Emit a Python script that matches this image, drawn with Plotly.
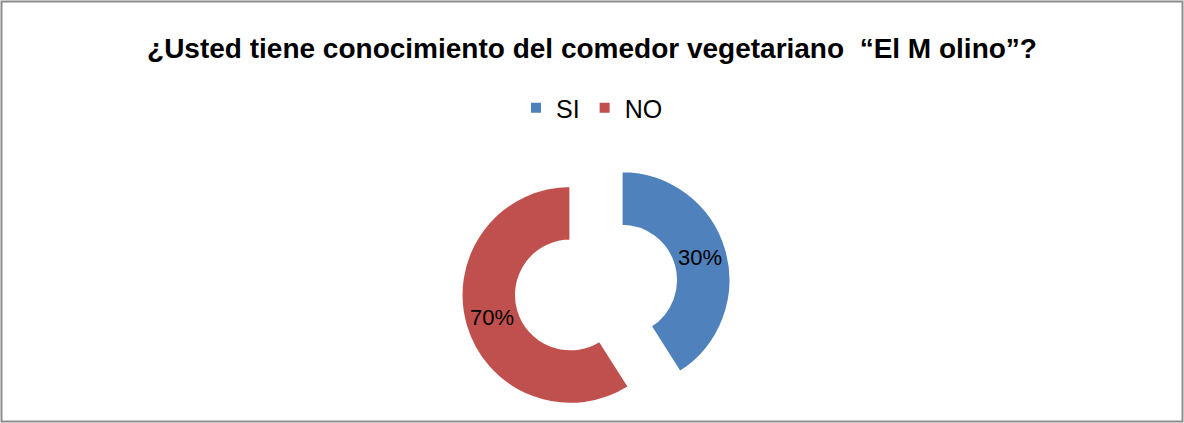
import plotly.graph_objects as go

labels = ["SI", "NO"]
# slice sizes as drawn in the reference (angles ~147° / 213°)
values = [41, 59]
# percentage labels as printed on the reference
value_labels = ["30%", "70%"]
colors = ["#4F81BD", "#C0504D"]
title_text = "¿Usted tiene conocimiento del comedor vegetariano  “El M olino”?"

W, H = 1184, 423
cx, cy, half = 596, 287.5, 135.5

fig = go.Figure()
fig.add_trace(go.Pie(
    labels=labels,
    values=values,
    text=value_labels,
    hole=0.5,
    sort=False,
    direction="clockwise",
    rotation=0,
    pull=[0.245, 0.245],
    marker=dict(colors=colors, line=dict(color="white", width=2)),
    textinfo="text",
    textposition="inside",
    insidetextorientation="horizontal",
    textfont=dict(family="Liberation Sans, Arial, sans-serif", size=22, color="black"),
    domain=dict(x=[(cx - half) / W, (cx + half) / W],
                y=[1 - (cy + half) / H, 1 - (cy - half) / H]),
    hoverinfo="label+text",
))

fig.update_layout(
    width=W, height=H,
    margin=dict(l=0, r=0, t=0, b=0),
    paper_bgcolor="white",
    plot_bgcolor="white",
    title=dict(
        text="<b>" + title_text + "</b>",
        x=0.5, xanchor="center",
        y=1 - 48 / H, yanchor="middle",
        font=dict(family="Liberation Sans, Arial, sans-serif", size=28, color="black"),
    ),
    legend=dict(
        orientation="h",
        x=0.5, xanchor="center",
        y=1 - 108 / H, yanchor="middle",
        font=dict(family="Liberation Sans, Arial, sans-serif", size=25, color="black"),
        itemwidth=30,
        traceorder="normal",
    ),
    showlegend=True,
    shapes=[dict(
        type="rect", xref="paper", yref="paper",
        x0=1.5 / W, x1=1 - 1.5 / W, y0=1.5 / H, y1=1 - 1.5 / H,
        line=dict(color="#8c8c8c", width=2),
        fillcolor="rgba(0,0,0,0)",
    )],
)

fig.write_html("out.html")
